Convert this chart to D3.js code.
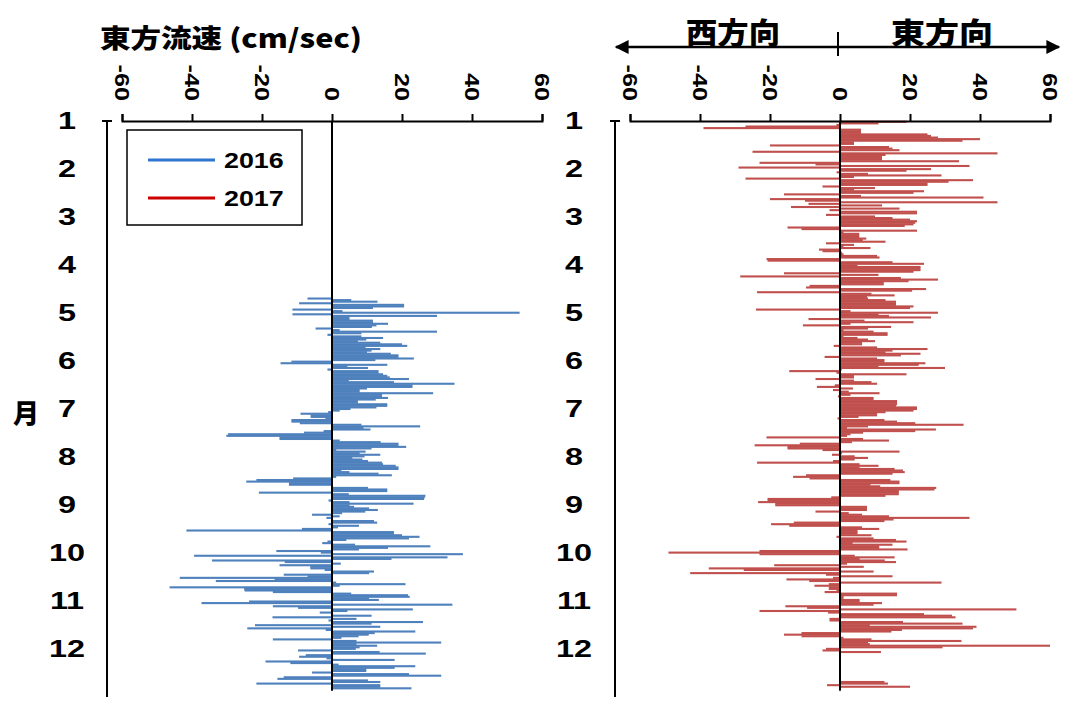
<!DOCTYPE html>
<html>
<head>
<meta charset="utf-8">
<script src="https://cdn.jsdelivr.net/npm/d3@7"></script>
<style>
  body { margin: 0; background: #fff; }
  text { font-family: "Liberation Sans", Arial, sans-serif; font-weight: bold; fill: #000; }
  .jp { font-family: "Noto Sans CJK JP", sans-serif; font-weight: 900; }
</style>
</head>
<body>
<svg id="chart" width="1081" height="711"></svg>
<script>
// month labels on the vertical axis
const months = [1, 2, 3, 4, 5, 6, 7, 8, 9, 10, 11, 12];
// speed ticks (cm/sec)
const speedTicks = [-60, -40, -20, 0, 20, 40, 60];
const seriesNames = ['2016', '2017'];

// daily eastward speed 2016, first value is the day index below
const start2016 = 112;
const east2016 = [
  -7, 5.5, 13, -9.4, 20.6, 20.6, 11.7, -11.3, 3, 53.6, -11.3, 30, 5, 5, 11.7, 11.7, 16, 12.7, 11.4, -4.7,
  2.2, 30, 8.4, -1.3, 8.4, 14.6, 9.8, 7.4, 13.8, 20, 21.5, 9.6, 13.8, 11.3, 10, 16.8, 19, 19, 23.4, 12.4,
  -11.6, -14.7, 15.8, 4.4, 10.3, -1.3, 13.3, 13.3, 14.6, 15.8, 16.5, 22, 4.8, 17.7, 35, 23, 23, 10,
  7.9, 7.9, 28.9, 14.3, 14.3, 16, 12.5, 7.4, 7.4, 15.8, 15.8, 12.7, 5.3, 2.2, -1.1, -9, -6.1, -6.1, -1.9, -11.6,
  -11.6, -9.2, 8.4, 25.2, 9, 11, -2.4, -8, -29.7, -30.2, -15, -15, 2.2, 13.9, 19, 19, 21.2, 11.3, 1.2, 9.6,
  7.9, 13.8, 9.3, 5.8, 8.7, 10.3, 14.3, 14.6, 18.2, 19, 19, 2.7, 5, 13.3, 17.1, 1.2, -11.1, -21.6, -24.5, -12.3,
  -12.3, 0.3, 10.3, 15.8,
  15.8, -20.9, 4.8, 26.7, 26.5, 26.3, -1, 5, 23.3, 5, 6.3, 10.6, 13.1, 9.5, 2.9, -5.7, 2.2, -1.6, 0.3, 12,
  12.9, -1, 7.7, 1.7, -8.6, -41.6, 17.7, 17.7, 20, 25, 22, 4.1, -1.3, -2.8, 6.6, 28.1, 16, 7.7, -15.9, -3.2,
  37.4, -39.4, 33, 17, -34.3, -13.5, 2.5, -15, -6.2, -6.2, -2.1, 12, 10.6, -13.8, -7, -43.5, -16.4, -33.2, 1.2, 21,
  2.2, -46.4, -25.1,
  -25, -16.9, 5.5, 21.7, 22.2, 10.6, 13.4, -23.7, -37.3, 34.4, -16.9, -9.7, 23.1, 4.4, -3.5, 0.3, 11.3, -17, 7, -1,
  26, 11.3, -22, 13.8, -24.2, -1.8, 23.8, 12.2, 10.5, 7.6, 2.7, -16.9, 7, 31.2, 7, 12.9, 7.9, 6.8, -9.7, 13.6,
  26.8, -7.5, -9.4, -1.6, 17.9, -19, -11.9, 1.9, 23.8, 17.9, 9.8, 9.8, -5.7, 22, 31.2, -13.8, -15.6, 10.3, 13.8, -21.6,
  13.8, 13.8, 22.7
];

// daily eastward speed 2017 from 1 Jan, null = no data
const start2017 = 0;
const east2017 = [
  19, 11, -1, -27, -39, 6, 6, 6, 25, 26, 28, 40, 35, 4, 4, -20, 14, 15, 17, -25,
  45, 13, 12, 12, 12, 34, -23, -7, 37, -29, 26, 19, -1, 8, 29, 4, -27, 38, 31, 25,
  25, -5, 10, 4, 24, 21, -16, 6, 41, -20, -10, 45, -9, 12, -14, 17,
  -3, 22, 22, -4, 10, 15, 20, 22, 21.5, 21, 18.5, -15, -11, 22, 1, 5.5, 5.5, 5.5, 7.5, 6.5,
  13, -4, 4, 1, 8.7, -6, -5, 0.6, 1, 10.6, 11.3, -21, -20.7, 15, 24, 5, 23, 23, 23, 21,
  -16, 11, -28.5, 17.4, 28, 19.6, 12.5, 12.5, -8.7, -9.7, 24.6, 20.6, -23.7, 9, 15.6, 7.7, 8, 13, 16, 16,
  16, 21, 20, -24, 3, 28, 11, 14, 26, -9, 7, 21, 3, -10.6, 14.6, 8, 1, 9.6, 13.6, 13.6,
  1, 5, 8, 10, 6.3, 6.3, -1.8, 10.6, 25, 15, 13, 23, 17.4, -4.4, 10.6, 12.7, 12.7, 24.4, 22.5, 11,
  30, 0.5, -14.5, -1, 19, 4, 4, -7, 4, 9, 10.6, -1.5, -6.6, 3.7, -2, 2.5, 11.3, 3, -0.6, 9.6,
  9.6, 16.3, 16.3, 16.3, 16, 22, 22, 21, 13, 10.6, 10.6, 5.3, -0.7, 12.7, 16.3, 21.5, 35.3, 8, 2, 27.4,
  21.5, 6.6, 3, 2, -21, 6.6, 14, 3.4, -11.5, -24.4, -15, -15, -5, 17, 0.6, -2.3, 4.2, 8, 4.2, -2,
  -23.7, 5.6, 11, 5.6, 15.6, 18, 18.5, 15, -9.7, -13.4, -8.7, 14.4, 17, 17, 8.7, 11.5, 27.5, 27, 16.8, 16.8,
  16.8, 13, -2.5, -20.7, -20.7, -23.4, -18.5, -18.5, 7.7, 7.7, 7.7, -7, 2.5, 6.3, 14, 37, 15.3, 12.7, -13.2, -19.7,
  -14.5, 6.3, 11.2, 5, 5, 5, 9, -1, 9.6, 16, 19, 3.6, 15, 11.2, 11.2, 19.3, -23, -49, -23, 4.2,
  15.6, 5.6, 12.8, 16, 2, -18.8, 6.8, -37.5, -27.5, 9.6, -42.8, -4, 15, -2, -15.3, -8.8, 29, -3.2, -7.3, -3.2,
  -3.2, -1, -4.4, 16.3, 16.3, 1, 1, 5.6, 5.6, 12, 9.6, -15.6, -9.4, 50.4, -23, -3.4, 24, 32, 33, -3,
  -3, 18, 35, 8.5, 39, 38, 17.7, 14.7, -11, -16, -11, 1, 9, 34.7, 8, 8.5, 60, 29.3, -4, -5,
  11.7, null, null, null, null, null, null, null, null, null, null, null, null, null, null, null, null, null, null,
  12.7, 13.7, -3.7, 20
];

const svg = d3.select('#chart');

const monthY = d3.scaleLinear().domain([1, 13]).range([121, 697]);
const dayY = d3.scaleLinear().domain([0, 365]).range([121, 697]);
const step = dayY(1) - dayY(0);
const barH = 2.1;

const panels = [
  { x0: 122, x1: 542, axisX: 107, labelX: 67, values: east2016, start: start2016, color: '#4f81bd' },
  { x0: 630, x1: 1050, axisX: 615, labelX: 574, values: east2017, start: start2017, color: '#c0504d' }
];

panels.forEach(p => {
  const x = d3.scaleLinear().domain([-60, 60]).range([p.x0, p.x1]);
  const g = svg.append('g');

  const rows = p.values.map((v, i) => ({ v: v, d: p.start + i })).filter(r => r.v !== null);

  g.selectAll('rect.bar')
    .data(rows)
    .enter().append('rect')
    .attr('class', 'bar')
    .attr('x', r => Math.min(x(0), x(r.v)))
    .attr('width', r => Math.abs(x(r.v) - x(0)))
    .attr('y', r => dayY(r.d) + (step - barH) / 2)
    .attr('height', barH)
    .attr('fill', p.color);

  // zero line
  g.append('line')
    .attr('x1', x(0)).attr('x2', x(0))
    .attr('y1', monthY(1)).attr('y2', dayY(361))
    .attr('stroke', '#000').attr('stroke-width', 2);

  // speed axis on top
  const xAxis = d3.axisTop(x).tickValues(speedTicks).tickSize(7).tickSizeOuter(7).tickFormat('');
  const ax = g.append('g').attr('transform', 'translate(0,' + monthY(1) + ')').call(xAxis);
  ax.selectAll('path, line').attr('stroke', '#000').attr('stroke-width', 2);

  g.selectAll('text.xt')
    .data(speedTicks)
    .enter().append('text')
    .attr('class', 'xt')
    .attr('transform', t => 'translate(' + x(t) + ',101) rotate(90) scale(1.2,1)')
    .attr('text-anchor', 'end')
    .attr('dominant-baseline', 'central')
    .attr('font-size', 21)
    .text(t => t);

  // month axis
  g.append('line')
    .attr('x1', p.axisX).attr('x2', p.axisX)
    .attr('y1', monthY(1)).attr('y2', monthY(13))
    .attr('stroke', '#000').attr('stroke-width', 2);
  g.append('line')
    .attr('x1', p.axisX - 5).attr('x2', p.axisX + 5)
    .attr('y1', monthY(1)).attr('y2', monthY(1))
    .attr('stroke', '#000').attr('stroke-width', 2);

  g.selectAll('text.mt')
    .data(months)
    .enter().append('text')
    .attr('class', 'mt')
    .attr('transform', m => 'translate(' + p.labelX + ',' + monthY(m) + ') scale(1.35,1)')
    .attr('text-anchor', 'middle')
    .attr('dominant-baseline', 'central')
    .attr('font-size', 24)
    .text(m => m);
});

// titles
svg.append('text').attr('class', 'jp')
  .attr('x', 100).attr('y', 48)
  .attr('font-size', 26)
  .attr('textLength', 262).attr('lengthAdjust', 'spacingAndGlyphs')
  .text('東方流速 (cm/sec)');

svg.append('text').attr('class', 'jp')
  .attr('x', 26).attr('y', 411)
  .attr('text-anchor', 'middle').attr('dominant-baseline', 'central')
  .attr('font-size', 26)
  .text('月');

// direction arrow on right panel
svg.append('defs').selectAll('marker')
  .data(['arrEnd', 'arrStart'])
  .enter().append('marker')
  .attr('id', d => d)
  .attr('viewBox', '0 0 10 10')
  .attr('refX', 9).attr('refY', 5)
  .attr('markerUnits', 'userSpaceOnUse')
  .attr('markerWidth', 15).attr('markerHeight', 14)
  .attr('orient', d => d === 'arrEnd' ? 'auto' : 'auto-start-reverse')
  .append('path').attr('d', 'M0,0 L10,5 L0,10 Z').attr('fill', '#000');

svg.append('line')
  .attr('x1', 616).attr('x2', 1059).attr('y1', 47).attr('y2', 47)
  .attr('stroke', '#000').attr('stroke-width', 2.5)
  .attr('marker-end', 'url(#arrEnd)').attr('marker-start', 'url(#arrStart)');
svg.append('line')
  .attr('x1', 838).attr('x2', 838).attr('y1', 32).attr('y2', 56)
  .attr('stroke', '#000').attr('stroke-width', 2);

svg.append('text').attr('class', 'jp')
  .attr('x', 686).attr('y', 44)
  .attr('font-size', 29)
  .attr('textLength', 94).attr('lengthAdjust', 'spacingAndGlyphs')
  .text('西方向');
svg.append('text').attr('class', 'jp')
  .attr('x', 891).attr('y', 44)
  .attr('font-size', 29)
  .attr('textLength', 102).attr('lengthAdjust', 'spacingAndGlyphs')
  .text('東方向');

// legend
const legend = svg.append('g');
legend.append('rect')
  .attr('x', 127).attr('y', 130).attr('width', 175).attr('height', 95)
  .attr('fill', '#fff').attr('stroke', '#000').attr('stroke-width', 1.5);
const legendColors = ['#2f75d0', '#cc0000'];
seriesNames.forEach((s, i) => {
  const ly = 160 + i * 38;
  legend.append('line')
    .attr('x1', 148).attr('x2', 215).attr('y1', ly).attr('y2', ly)
    .attr('stroke', legendColors[i]).attr('stroke-width', 3);
  legend.append('text')
    .attr('transform', 'translate(224,' + ly + ') scale(1.22,1)')
    .attr('dominant-baseline', 'central')
    .attr('font-size', 22)
    .text(s);
});
</script>
</body>
</html>
